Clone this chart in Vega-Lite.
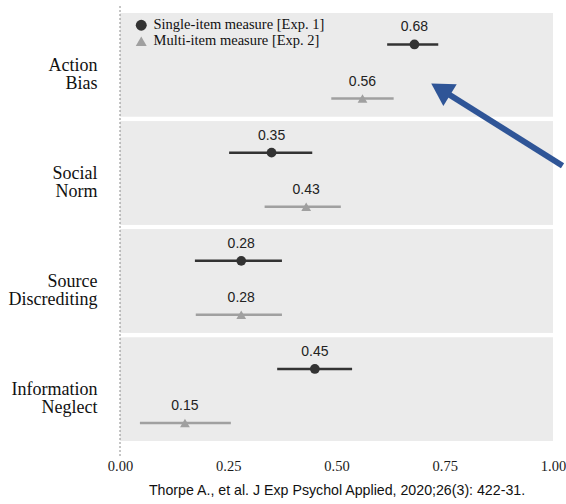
{
  "$schema": "https://vega.github.io/schema/vega-lite/v6.json",
  "width": 433,
  "height": 450,
  "padding": {"left": 5, "top": 5, "right": 0, "bottom": 0},
  "background": "white",
  "config": {
    "view": {"stroke": null},
    "font": "Liberation Sans",
    "legend": {
      "orient": "none", "legendX": 14, "legendY": 12, "title": null, "padding": 0,
      "labelFont": "Liberation Serif", "labelFontSize": 14.5, "labelColor": "#111111", "labelLimit": 400,
      "symbolSize": 120, "rowPadding": 1, "labelOffset": 5, "symbolStrokeWidth": 0
    }
  },
  "datasets": {
    "est": [
      {"category": "Action Bias", "measure": "Single-item measure [Exp. 1]", "est": 0.68, "lo": 0.617, "hi": 0.735},
      {"category": "Action Bias", "measure": "Multi-item measure [Exp. 2]", "est": 0.56, "lo": 0.488, "hi": 0.632},
      {"category": "Social Norm", "measure": "Single-item measure [Exp. 1]", "est": 0.35, "lo": 0.252, "hi": 0.444},
      {"category": "Social Norm", "measure": "Multi-item measure [Exp. 2]", "est": 0.43, "lo": 0.334, "hi": 0.51},
      {"category": "Source Discrediting", "measure": "Single-item measure [Exp. 1]", "est": 0.28, "lo": 0.173, "hi": 0.374},
      {"category": "Source Discrediting", "measure": "Multi-item measure [Exp. 2]", "est": 0.28, "lo": 0.175, "hi": 0.374},
      {"category": "Information Neglect", "measure": "Single-item measure [Exp. 1]", "est": 0.45, "lo": 0.363, "hi": 0.536},
      {"category": "Information Neglect", "measure": "Multi-item measure [Exp. 2]", "est": 0.15, "lo": 0.046, "hi": 0.256}
    ]
  },
  "layer": [
    {
      "data": {"name": "est"},
      "layer": [
        {
          "mark": {"type": "rect", "color": "#ebebeb"},
          "encoding": {
            "y": {
              "field": "category", "type": "nominal",
              "sort": ["Action Bias", "Social Norm", "Source Discrediting", "Information Neglect"],
              "scale": {"type": "band", "paddingInner": 0.043, "paddingOuter": 0.1017, "align": 0.318},
              "axis": {
                "title": null, "ticks": false, "domain": false, "grid": false,
                "labelFont": "Liberation Serif", "labelFontSize": 18, "labelLineHeight": 18,
                "labelColor": "#111111", "labelAlign": "right",
                "labelExpr": "split(datum.label, ' ')",
                "labelPadding": 23, "labelOffset": 1, "minExtent": 115, "maxExtent": 115
              }
            },
            "x": {
              "datum": 0, "type": "quantitative",
              "scale": {"domain": [0, 1], "nice": false},
              "axis": {
                "values": [0, 0.25, 0.5, 0.75, 1], "format": ".2f",
                "ticks": false, "domain": false, "grid": false, "labelFlush": false,
                "labelFont": "Liberation Serif", "labelFontSize": 14.5, "labelColor": "#1a1a1a",
                "labelPadding": 3,
                "title": "Thorpe A., et al. J Exp Psychol Applied, 2020;26(3): 422-31.",
                "titleFont": "Liberation Sans", "titleFontSize": 14.2, "titleFontWeight": "normal",
                "titleColor": "#111111", "titlePadding": 11
              }
            },
            "x2": {"datum": 1}
          }
        },
        {
          "mark": {"type": "rule", "strokeWidth": 2.5},
          "encoding": {
            "y": {"field": "category", "type": "nominal", "sort": ["Action Bias", "Social Norm", "Source Discrediting", "Information Neglect"]},
            "yOffset": {"field": "measure", "type": "nominal", "sort": ["Single-item measure [Exp. 1]", "Multi-item measure [Exp. 2]"],
              "scale": {"paddingInner": 0.5, "paddingOuter": 0.2083, "align": 0.8}},
            "x": {"field": "lo", "type": "quantitative"},
            "x2": {"field": "hi"},
            "color": {"field": "measure", "type": "nominal",
              "scale": {"domain": ["Single-item measure [Exp. 1]", "Multi-item measure [Exp. 2]"], "range": ["#333333", "#a0a0a0"]}}
          }
        },
        {
          "mark": {"type": "point", "filled": true, "opacity": 1, "size": 95},
          "encoding": {
            "y": {"field": "category", "type": "nominal", "sort": ["Action Bias", "Social Norm", "Source Discrediting", "Information Neglect"]},
            "yOffset": {"field": "measure", "type": "nominal", "sort": ["Single-item measure [Exp. 1]", "Multi-item measure [Exp. 2]"]},
            "x": {"field": "est", "type": "quantitative"},
            "color": {"field": "measure", "type": "nominal"},
            "shape": {"field": "measure", "type": "nominal",
              "scale": {"domain": ["Single-item measure [Exp. 1]", "Multi-item measure [Exp. 2]"], "range": ["circle", "triangle-up"]}}
          }
        },
        {
          "mark": {"type": "text", "dy": -17, "fontSize": 14, "color": "#222222", "font": "Liberation Sans"},
          "encoding": {
            "y": {"field": "category", "type": "nominal", "sort": ["Action Bias", "Social Norm", "Source Discrediting", "Information Neglect"]},
            "yOffset": {"field": "measure", "type": "nominal", "sort": ["Single-item measure [Exp. 1]", "Multi-item measure [Exp. 2]"]},
            "x": {"field": "est", "type": "quantitative"},
            "text": {"field": "est", "type": "quantitative", "format": ".2f"}
          }
        }
      ]
    },
    {
      "data": {"values": [{}]},
      "layer": [
        {
          "mark": {"type": "rule", "color": "#8c8c8c", "strokeDash": [2, 2], "strokeWidth": 1},
          "encoding": {"x": {"datum": 0, "type": "quantitative"}}
        },
        {
          "mark": {"type": "rule", "color": "#2f5597", "strokeWidth": 6},
          "encoding": {
            "x": {"datum": 1.022, "type": "quantitative"},
            "x2": {"datum": 0.7405},
            "y": {"datum": 0.645, "type": "quantitative", "scale": {"domain": [0, 1]}, "axis": null},
            "y2": {"datum": 0.815}
          }
        },
        {
          "mark": {"type": "point", "shape": "triangle-up", "filled": true, "opacity": 1, "color": "#2f5597", "size": 650, "angle": 301.7},
          "encoding": {
            "x": {"datum": 0.7405, "type": "quantitative"},
            "y": {"datum": 0.815, "type": "quantitative"}
          }
        }
      ]
    }
  ],
  "resolve": {"scale": {"y": "independent"}}
}
